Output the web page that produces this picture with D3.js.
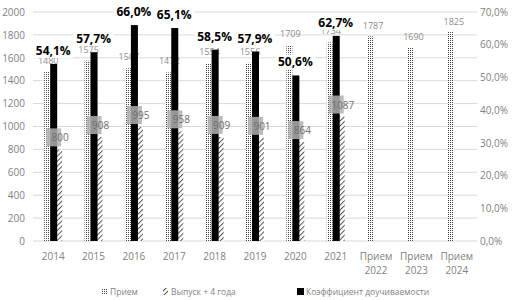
<!DOCTYPE html>
<html>
<head>
<meta charset="utf-8">
<script src="https://cdn.jsdelivr.net/npm/d3@7"></script>
<style>
  body { margin: 0; background: #fff; }
  #chart { width: 515px; height: 300px; }
  text { font-family: "Open Sans", sans-serif; }
</style>
</head>
<body>
<div id="chart"></div>
<script>
// Categories and series
const categories = ["2014", "2015", "2016", "2017", "2018", "2019", "2020", "2021", "Прием 2022", "Прием 2023", "Прием 2024"];
const priem = [1480, 1575, 1507, 1472, 1554, 1556, 1709, 1734, 1787, 1690, 1825];
const vypusk = [800, 908, 995, 958, 909, 901, 864, 1087, null, null, null];
const koef = [0.541, 0.577, 0.660, 0.651, 0.585, 0.579, 0.506, 0.627, null, null, null];
const leftTicks = [0, 200, 400, 600, 800, 1000, 1200, 1400, 1600, 1800, 2000];
const rightTicks = [0, 0.1, 0.2, 0.3, 0.4, 0.5, 0.6, 0.7];
const legendLabels = ["Прием", "Выпуск + 4 года", "Коэффициент доучиваемости"];

const width = 515, height = 300;
const margin = { top: 12, right: 38, bottom: 59, left: 33 };
const plotW = width - margin.left - margin.right;

const svg = d3.select("#chart").append("svg")
  .attr("width", width).attr("height", height);

// Fill patterns
const defs = svg.append("defs");
const dots = defs.append("pattern").attr("id", "dots")
  .attr("patternUnits", "userSpaceOnUse").attr("width", 2).attr("height", 2);
dots.append("rect").attr("width", 2).attr("height", 2).attr("fill", "#fff");
dots.append("rect").attr("width", 1).attr("height", 1).attr("fill", "#444");

const hatch = defs.append("pattern").attr("id", "hatch")
  .attr("patternUnits", "userSpaceOnUse").attr("width", 3.5).attr("height", 3.5)
  .attr("patternTransform", "rotate(45)");
hatch.append("rect").attr("width", 3.5).attr("height", 3.5).attr("fill", "#fff");
hatch.append("line").attr("x1", 0.5).attr("y1", 0).attr("x2", 0.5).attr("y2", 3.5)
  .attr("stroke", "#555").attr("stroke-width", 1);

// Scales
const x = d3.scaleBand().domain(categories).range([margin.left, margin.left + plotW]);
const x1 = d3.scaleBand().domain(["priem", "koef", "vypusk"])
  .range([x.bandwidth() / 2 - 9, x.bandwidth() / 2 + 9]);
const y = d3.scaleLinear().domain([0, 2000]).range([241, margin.top]);
const yR = d3.scaleLinear().domain([0, 0.7]).range([241, margin.top]);

// Gridlines
svg.append("g").selectAll("line").data(leftTicks).join("line")
  .attr("x1", margin.left).attr("x2", margin.left + plotW)
  .attr("y1", d => y(d)).attr("y2", d => y(d))
  .attr("stroke", "#d9d9d9").attr("stroke-width", 1);

// Left axis
const fmtPct = d => d3.format(".1f")(d * 100).replace(".", ",") + "%";
const leftAxis = svg.append("g").attr("transform", `translate(${margin.left},0)`)
  .call(d3.axisLeft(y).tickValues(leftTicks).tickSize(0).tickPadding(8).tickFormat(d3.format("d")));
leftAxis.select(".domain").remove();
leftAxis.selectAll("text").attr("fill", "#7f7f7f").attr("font-size", 10);

// Right axis
const rightAxis = svg.append("g").attr("transform", `translate(${margin.left + plotW},0)`)
  .call(d3.axisRight(yR).tickValues(rightTicks).tickSize(0).tickPadding(3).tickFormat(fmtPct));
rightAxis.select(".domain").remove();
rightAxis.selectAll("text").attr("fill", "#7f7f7f").attr("font-size", 10);

// Category axis
const catG = svg.append("g");
categories.forEach(c => {
  const parts = c.split(" ");
  const t = catG.append("text")
    .attr("x", x(c) + x.bandwidth() / 2).attr("y", 260)
    .attr("text-anchor", "middle").attr("fill", "#7f7f7f").attr("font-size", 10);
  parts.forEach((p, i) => {
    t.append("tspan").attr("x", x(c) + x.bandwidth() / 2).attr("dy", i === 0 ? 0 : 13.5).text(p);
  });
});

const rows = categories.map((c, i) => ({ c, priem: priem[i], vypusk: vypusk[i], koef: koef[i] }));
const bw = x1.bandwidth();

// Прием bars
svg.append("g").selectAll("rect").data(rows).join("rect")
  .attr("x", d => x(d.c) + x1("priem")).attr("width", bw)
  .attr("y", d => y(d.priem)).attr("height", d => y(0) - y(d.priem))
  .attr("fill", "url(#dots)");

// Выпуск bars
svg.append("g").selectAll("rect").data(rows.filter(d => d.vypusk != null)).join("rect")
  .attr("x", d => x(d.c) + x1("vypusk")).attr("width", bw)
  .attr("y", d => y(d.vypusk)).attr("height", d => y(0) - y(d.vypusk))
  .attr("fill", "url(#hatch)");

// Прием labels
svg.append("g").selectAll("text").data(rows).join("text")
  .attr("x", d => x(d.c) + x1("priem") + bw / 2 + (d.vypusk == null ? 3 : 1))
  .attr("y", d => y(d.priem) - (d.vypusk == null ? 7 : 8))
  .attr("text-anchor", "middle").attr("fill", "#8c8c8c").attr("font-size", 9)
  .text(d => d.priem);

// Коэффициент bars (secondary axis)
svg.append("g").selectAll("rect").data(rows.filter(d => d.koef != null)).join("rect")
  .attr("x", d => x(d.c) + x1("koef")).attr("width", bw + 1)
  .attr("y", d => yR(d.koef)).attr("height", d => yR(0) - yR(d.koef))
  .attr("fill", "#000");

// Выпуск labels with grey boxes
const vl = svg.append("g").selectAll("g").data(rows.filter(d => d.vypusk != null)).join("g")
  .attr("transform", d => `translate(${x(d.c) + x1("vypusk") + bw / 2},${y(d.vypusk) - 3})`);
vl.append("rect").attr("x", -13).attr("y", -18).attr("width", 15).attr("height", 18)
  .attr("fill", "#b0b0b0").attr("opacity", 0.85);
vl.append("text").attr("x", 1).attr("y", -5).attr("text-anchor", "middle")
  .attr("fill", "#6e6e6e").attr("font-size", 10).text(d => d.vypusk);

// Percentage labels with white boxes
const pl = svg.append("g").selectAll("g").data(rows.filter(d => d.koef != null)).join("g")
  .attr("transform", d => `translate(${x(d.c) + x1("koef") + bw / 2},${yR(d.koef) - 9})`);
pl.append("rect").attr("x", -20).attr("y", -12).attr("width", 40).attr("height", 15)
  .attr("fill", "#fff");
pl.append("text").attr("text-anchor", "middle").attr("fill", "#000")
  .attr("font-size", 12).attr("font-weight", "bold").text(d => fmtPct(d.koef));

// Legend
const lg = svg.append("g").attr("transform", "translate(0,295)");
const legendX = [102, 163, 297];
const legendFill = ["url(#dots)", "url(#hatch)", "#000"];
legendLabels.forEach((l, i) => {
  lg.append("rect").attr("x", legendX[i]).attr("y", -7).attr("width", i === 2 ? 7 : 5).attr("height", 7)
    .attr("fill", legendFill[i]);
  lg.append("text").attr("x", legendX[i] + (i === 2 ? 9 : 8)).attr("y", 0)
    .attr("fill", "#7f7f7f").attr("font-size", 8.5).text(l);
});
</script>
</body>
</html>
